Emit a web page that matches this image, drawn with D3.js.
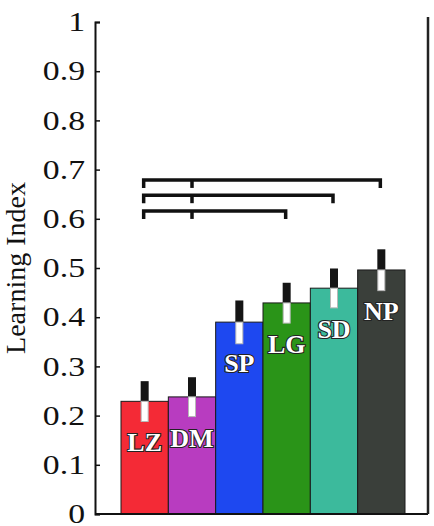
<!DOCTYPE html>
<html>
<head>
<meta charset="utf-8">
<script src="https://cdn.jsdelivr.net/npm/d3@7"></script>
<style>
  body { margin: 0; background: #fff; }
  svg { display: block; }
</style>
</head>
<body>
<div id="chart"></div>
<script>
// groups and their learning index (mean, s.e.m.)
let groups = ["LZ", "DM", "SP", "LG", "SD", "NP"]
let means  = [0.229, 0.238, 0.390, 0.429, 0.459, 0.496]
let errs   = [0.041, 0.040, 0.044, 0.041, 0.040, 0.042]
let colors = ["#f42a36", "#b83cc0", "#1e48f0", "#2a9418", "#3cba9c", "#3a3f3a"]

// significance brackets: LZ and DM vs each target
let bracketLevels  = [0.679, 0.648, 0.616]
let bracketTargets = ["NP", "SD", "LG"]
let bracketFrom = "LZ"
let bracketMid  = "DM"

let yTicks = [0, 0.1, 0.2, 0.3, 0.4, 0.5, 0.6, 0.7, 0.8, 0.9, 1]

let width = 434
let height = 526
let axisX = 95
let rightX = 428

let svg = d3.select("#chart").append("svg")
  .attr("width", width)
  .attr("height", height)

let y = d3.scaleLinear().domain([0, 1]).range([514, 22])
let x = d3.scaleBand().domain(groups).range([121, 405]).paddingInner(0)

let data = groups.map((g, i) => ({ name: g, mean: means[i], err: errs[i], color: colors[i] }))

// bars
svg.append("g")
  .selectAll("rect")
  .data(data)
  .join("rect")
  .attr("x", d => x(d.name))
  .attr("y", d => y(d.mean))
  .attr("width", x.bandwidth())
  .attr("height", d => y(0) - y(d.mean))
  .attr("fill", d => d.color)
  .attr("stroke", "#1a1a1a")
  .attr("stroke-width", 1)

// error bars: black above the mean, white inside the bar
let eb = svg.append("g")
let ebW = 8
eb.selectAll("rect.up")
  .data(data)
  .join("rect")
  .attr("class", "up")
  .attr("x", d => x(d.name) + x.bandwidth() / 2 - ebW / 2)
  .attr("y", d => y(d.mean + d.err))
  .attr("width", ebW)
  .attr("height", d => y(d.mean) - y(d.mean + d.err))
  .attr("fill", "#151515")
eb.selectAll("rect.down")
  .data(data)
  .join("rect")
  .attr("class", "down")
  .attr("x", d => x(d.name) + x.bandwidth() / 2 - ebW / 2 + 0.5)
  .attr("y", d => y(d.mean))
  .attr("width", ebW - 1)
  .attr("height", d => y(d.mean - d.err) - y(d.mean))
  .attr("fill", "#fff")
  .attr("stroke", "#b8b8b8")
  .attr("stroke-width", 1)

// labels inside bars
svg.append("g")
  .attr("font-family", "'Liberation Serif', serif")
  .attr("font-weight", "bold")
  .attr("font-size", 26)
  .selectAll("text")
  .data(data)
  .join("text")
  .attr("x", d => x(d.name) + x.bandwidth() / 2)
  .attr("y", d => y(d.mean) + 41)
  .attr("dy", "0.34em")
  .attr("text-anchor", "middle")
  .attr("fill", "#fff")
  .attr("stroke", "#222")
  .attr("stroke-width", 2.2)
  .attr("paint-order", "stroke")
  .text(d => d.name)

// significance brackets
let cx = g => x(g) + x.bandwidth() / 2
let tickLen = 8
let br = svg.append("g")
  .attr("fill", "none")
  .attr("stroke", "#111")
  .attr("stroke-width", 3.5)
  .attr("stroke-linejoin", "miter")
bracketLevels.forEach(function(lv, i) {
  let yy = y(lv)
  let x0 = cx(bracketFrom) - 1
  let x1 = cx(bracketTargets[i]) - 1
  br.append("path")
    .attr("d", "M" + x0 + "," + (yy + tickLen) + "V" + yy + "H" + x1 + "V" + (yy + tickLen))
  br.append("path")
    .attr("d", "M" + cx(bracketMid) + "," + yy + "V" + (yy + tickLen))
})

// left axis, ticks pointing inward
let axis = svg.append("g")
  .attr("transform", "translate(" + axisX + ",0)")
  .call(d3.axisLeft(y)
    .tickValues(yTicks)
    .tickFormat(d3.format("~g"))
    .tickSizeInner(-5)
    .tickSizeOuter(-5)
    .tickPadding(8))
  .attr("font-family", "'Liberation Serif', serif")
  .attr("font-size", 27)
axis.select(".domain").attr("stroke", "#111").attr("stroke-width", 2)
axis.selectAll(".tick line").attr("stroke", "#111").attr("stroke-width", 1.5)
axis.selectAll(".tick text")
  .attr("fill", "#111")
  .attr("font-family", "'Liberation Serif', serif")
  .attr("transform", "scale(1.25,1)")

// frame: bottom and right side
svg.append("line")
  .attr("x1", axisX).attr("x2", rightX)
  .attr("y1", y(0)).attr("y2", y(0))
  .attr("stroke", "#111").attr("stroke-width", 2)
svg.append("line")
  .attr("x1", rightX).attr("x2", rightX)
  .attr("y1", 17).attr("y2", y(0))
  .attr("stroke", "#222").attr("stroke-width", 2.5)

// y label
svg.append("text")
  .attr("transform", "translate(25," + y(0.5) + ") rotate(-90)")
  .attr("text-anchor", "middle")
  .attr("font-family", "'Liberation Serif', serif")
  .attr("font-size", 28)
  .attr("fill", "#111")
  .text("Learning Index")
</script>
</body>
</html>
